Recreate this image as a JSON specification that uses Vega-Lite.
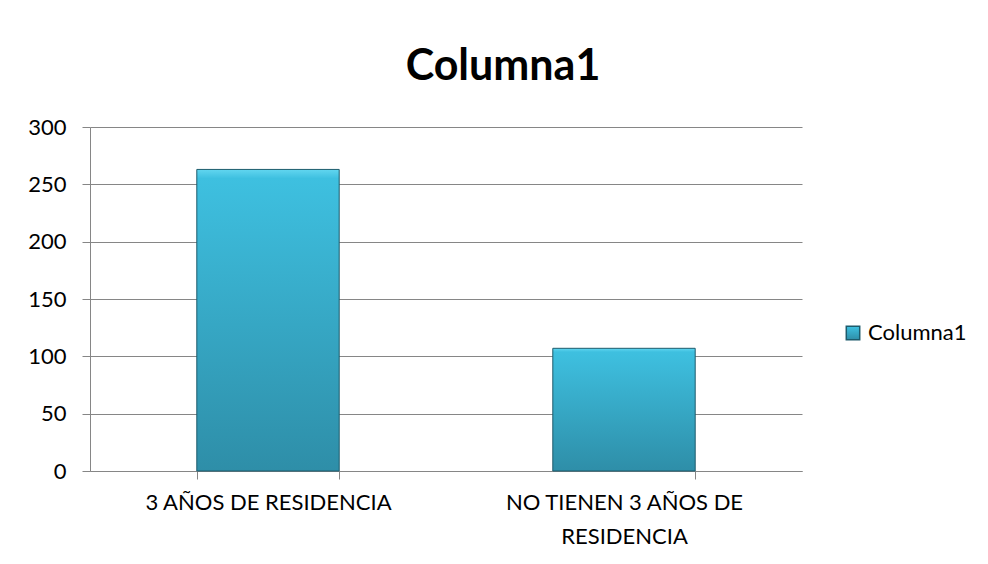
{
  "$schema": "https://vega.github.io/schema/vega-lite/v6.json",
  "autosize": "none",
  "width": 712,
  "height": 344,
  "padding": {"left": 90, "top": 127, "right": 186, "bottom": 93},
  "background": "white",
  "title": {
    "text": "Columna1",
    "font": "Lato",
    "fontSize": 43,
    "fontWeight": "bold",
    "color": "#000000",
    "anchor": "middle",
    "dx": 57,
    "offset": 27
  },
  "data": {
    "values": [
      {"categoria": "3 AÑOS DE RESIDENCIA", "valor": 263},
      {"categoria": "NO TIENEN 3 AÑOS DE RESIDENCIA", "valor": 107}
    ]
  },
  "mark": {
    "type": "bar",
    "fill": {
      "gradient": "linear",
      "x1": 0, "y1": 0, "x2": 0, "y2": 1,
      "stops": [
        {"offset": 0, "color": "#62D6F0"},
        {"offset": 0.03, "color": "#3EC0E0"},
        {"offset": 1, "color": "#2E8EA8"}
      ]
    },
    "strokeWidth": 1
  },
  "encoding": {
    "x": {
      "field": "categoria",
      "type": "nominal",
      "sort": null,
      "scale": {"paddingInner": 0.6, "paddingOuter": 0.3},
      "axis": {
        "title": null,
        "labelAngle": 0,
        "labelFont": "Lato",
        "labelFontSize": 22,
        "labelColor": "#000000",
        "labelPadding": 13,
        "labelLineHeight": 34,
        "labelBaseline": "top",
        "labelLimit": 400,
        "tickBand": "extent",
        "tickSize": 8,
        "tickColor": "#868686",
        "domainColor": "#868686",
        "labelExpr": "datum.label == 'NO TIENEN 3 AÑOS DE RESIDENCIA' ? ['NO TIENEN 3 AÑOS DE', 'RESIDENCIA'] : datum.label"
      }
    },
    "y": {
      "field": "valor",
      "type": "quantitative",
      "scale": {"domain": [0, 300]},
      "axis": {
        "title": null,
        "values": [0, 50, 100, 150, 200, 250, 300],
        "labelFont": "Lato",
        "labelFontSize": 22,
        "labelColor": "#000000",
        "labelPadding": 16,
        "tickSize": 8,
        "tickColor": "#868686",
        "domainColor": "#868686",
        "gridColor": "#868686",
        "grid": true
      }
    },
    "stroke": {
      "datum": "Columna1",
      "scale": {"range": ["#1D5B6C"]},
      "legend": {
        "title": null,
        "orient": "none",
        "legendX": 752,
        "legendY": 195,
        "symbolType": "square",
        "symbolSize": 180,
        "symbolFillColor": "#36A8C8",
        "labelFont": "Lato",
        "labelFontSize": 22,
        "labelColor": "#000000",
        "labelOffset": 4
      }
    }
  },
  "config": {
    "view": {"stroke": null},
    "axis": {"gridWidth": 1, "domainWidth": 1, "tickWidth": 1}
  }
}
